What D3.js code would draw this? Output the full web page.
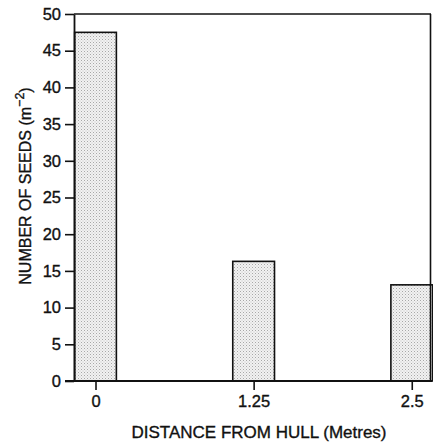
<!DOCTYPE html>
<html>
<head>
<meta charset="utf-8">
<script src="https://cdn.jsdelivr.net/npm/d3@7"></script>
<style>
  body { margin: 0; background: #fff; }
  text { font-family: "Liberation Sans", Arial, sans-serif; fill: #111; stroke: #111; stroke-width: 0.35px; }
</style>
</head>
<body>
<div id="chart"></div>
<script>
// seed counts at distances from the hull
const distances = [0, 1.25, 2.5];
const seeds = [47.5, 16.3, 13.1];
const xTicks = [0, 1.25, 2.5];
const yTicks = [0, 5, 10, 15, 20, 25, 30, 35, 40, 45, 50];

const width = 433, height = 446;
const margin = { top: 14, right: 1, bottom: 65, left: 74 };

const svg = d3.select('#chart').append('svg')
  .attr('width', width).attr('height', height);

// stipple fill
const defs = svg.append('defs');
const pat = defs.append('pattern')
  .attr('id', 'stipple').attr('patternUnits', 'userSpaceOnUse')
  .attr('width', 3).attr('height', 3);
pat.append('rect').attr('width', 3).attr('height', 3).attr('fill', '#f2f2f2');
pat.append('rect').attr('x', 0).attr('y', 0).attr('width', 1).attr('height', 1).attr('fill', '#a8a8a8');
pat.append('rect').attr('x', 1.5).attr('y', 1.5).attr('width', 1).attr('height', 1).attr('fill', '#c4c4c4');

const x = d3.scaleLinear().domain([-0.17, 2.66]).range([margin.left, width - margin.right]);
const y = d3.scaleLinear().domain([0, 50]).range([height - margin.bottom, margin.top]);
const barW = x(0.33) - x(0);

// bars
svg.selectAll('rect.bar').data(distances).join('rect')
  .attr('class', 'bar')
  .attr('x', (d, i) => x(d) - barW / 2)
  .attr('y', (d, i) => y(seeds[i]))
  .attr('width', barW)
  .attr('height', (d, i) => y(0) - y(seeds[i]))
  .attr('fill', 'url(#stipple)')
  .attr('stroke', '#111').attr('stroke-width', 1.6);

// frame top + right
svg.append('line')
  .attr('x1', x.range()[0]).attr('x2', x.range()[1] - 1)
  .attr('y1', y(50)).attr('y2', y(50))
  .attr('stroke', '#111').attr('stroke-width', 1.6);
svg.append('line')
  .attr('x1', x.range()[1] - 1.5).attr('x2', x.range()[1] - 1.5)
  .attr('y1', y(50)).attr('y2', y(0))
  .attr('stroke', '#111').attr('stroke-width', 1.6);

// y axis
const yAxis = svg.append('g')
  .attr('transform', `translate(${margin.left},0)`)
  .call(d3.axisLeft(y).tickValues(yTicks).tickSize(9).tickPadding(4).tickSizeOuter(0));
yAxis.select('.domain').attr('stroke', '#111').attr('stroke-width', 1.8);
yAxis.selectAll('.tick line').attr('stroke', '#111').attr('stroke-width', 1.6);
yAxis.selectAll('.tick text').attr('font-size', 16.5).attr('fill', '#111')
  .style('font-family', '"Liberation Sans", Arial, sans-serif');

// x axis
const xAxis = svg.append('g')
  .attr('transform', `translate(0,${y(0)})`)
  .call(d3.axisBottom(x).tickValues(xTicks).tickFormat(d => String(d)).tickSize(9).tickPadding(5).tickSizeOuter(0));
xAxis.select('.domain').attr('stroke', '#111').attr('stroke-width', 1.8)
  .attr('d', `M${margin.left - 9},0H${width - margin.right}`);
xAxis.selectAll('.tick line').attr('stroke', '#111').attr('stroke-width', 1.6);
xAxis.selectAll('.tick text').attr('font-size', 16.5).attr('fill', '#111')
  .style('font-family', '"Liberation Sans", Arial, sans-serif');

// axis titles
svg.append('text')
  .attr('x', 259).attr('y', 438)
  .attr('text-anchor', 'middle').attr('font-size', 17)
  .text('DISTANCE FROM HULL (Metres)');

const yl = svg.append('text')
  .attr('transform', 'translate(31,186) rotate(-90)')
  .attr('text-anchor', 'middle').attr('font-size', 16);
yl.append('tspan').text('NUMBER OF SEEDS (m');
yl.append('tspan').attr('dy', -7).attr('font-size', 12.5).text('\u22122');
yl.append('tspan').attr('dy', 7).text(')');
</script>
</body>
</html>
